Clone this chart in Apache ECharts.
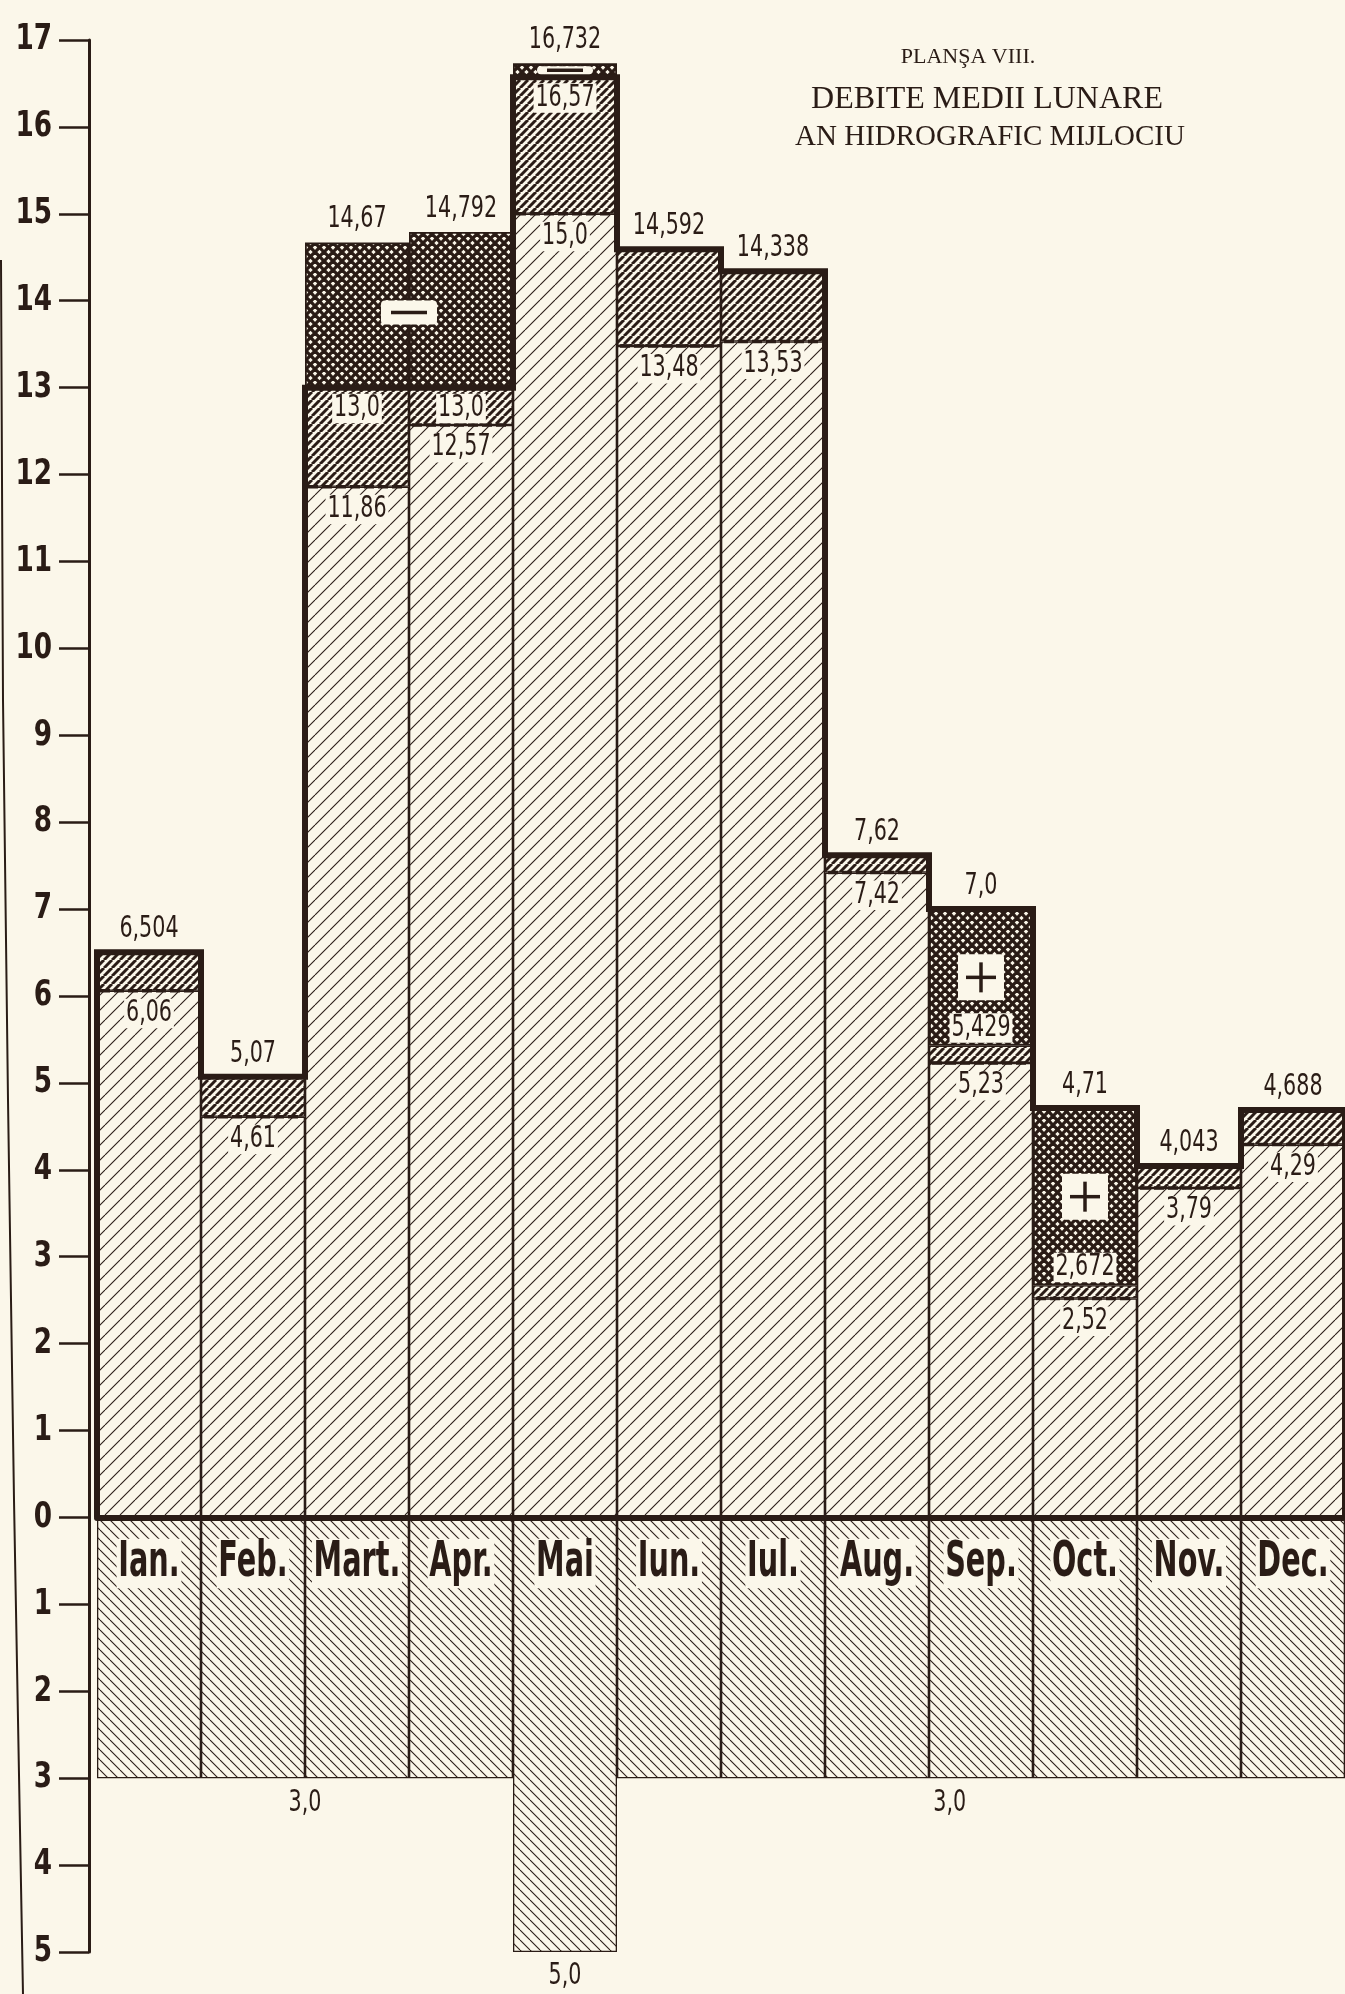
<!DOCTYPE html>
<html><head><meta charset="utf-8">
<script src="https://cdn.jsdelivr.net/npm/echarts@6/dist/echarts.min.js"></script>
<style>html,body{margin:0;padding:0;background:#fbf7ea;}#c{width:1345px;height:1994px;}</style>
</head><body><div id="c"></div>
<script>
// ---------- data ----------
const months = ['Ian.','Feb.','Mart.','Apr.','Mai','Iun.','Iul.','Aug.','Sep.','Oct.','Nov.','Dec.'];
const baseVals  = [6.06, 4.61, 11.86, 12.57, 15.0, 13.48, 13.53, 7.42, 5.23, 2.52, 3.79, 4.29];
const meanVals  = [6.504, 5.07, 13.0, 13.0, 16.57, 14.592, 14.338, 7.62, 5.429, 2.672, 4.043, 4.688];
const crossTops = [null, null, 14.67, 14.792, 16.732, null, null, null, 7.0, 4.71, null, null];
const crossSigns = ['', '', '−', '−', '−', '', '', '', '+', '+', '', ''];
const negVals   = [3.0, 3.0, 3.0, 3.0, 5.0, 3.0, 3.0, 3.0, 3.0, 3.0, 3.0, 3.0];
const yTicks = [-5, -4, -3, -2, -1, 0, 1, 2, 3, 4, 5, 6, 7, 8, 9, 10, 11, 12, 13, 14, 15, 16, 17];
const signGroups = [[2, 3], [4], [8], [9]];
const negNotes = [{at: 2.0, v: 3.0}, {at: 8.2, v: 3.0}, {at: 4.5, v: 5.0}];
const titleLines = ['PLANŞA VIII.', 'DEBITE MEDII LUNARE', 'AN HIDROGRAFIC MIJLOCIU'];

// ---------- style ----------
const INK = '#2a1c16', PAPER = '#fbf7ea';
const NUMFONT = "'DejaVu Sans Condensed','Liberation Sans Narrow','Roboto Condensed','DejaVu Sans',sans-serif";

function tile(step, lw, dirs) {
  const c = document.createElement('canvas'); c.width = step; c.height = step;
  const g = c.getContext('2d');
  g.fillStyle = PAPER; g.fillRect(0, 0, step, step);
  g.strokeStyle = INK; g.lineWidth = lw;
  for (const d of dirs) {
    for (let k = -1; k <= 1; k++) {
      g.beginPath();
      if (d === '/') { g.moveTo(k*step, step); g.lineTo(k*step + step, 0); }
      else { g.moveTo(k*step, 0); g.lineTo(k*step + step, step); }
      g.stroke();
    }
  }
  return {image: c, repeat: 'repeat'};
}
const patBase = tile(15, 1.1, ['/']);
const patDense = tile(8, 3.0, ['/']);
const patCross = tile(9, 3.3, ['/', '\\']);
const patNeg = tile(10, 1.1, ['\\']);

function fmt(v) { let s = String(v); if (s.indexOf('.') < 0) s += '.0'; return s.replace('.', ','); }
const r3 = x => Math.round(x * 1000) / 1000;

const denseDiff = meanVals.map((m, i) => r3(m - baseVals[i]));
const crossDiff = crossTops.map((t, i) => t == null ? '-' : r3(t - meanVals[i]));
const negData = negVals.map(v => -v);
const envelope = meanVals.map((m, i) => crossSigns[i] === '+' ? crossTops[i] : m);
const topVals = meanVals.map((m, i) => crossTops[i] != null ? Math.max(m, crossTops[i]) : m);
const envPts = [[0, 0]];
envelope.forEach((v, i) => { envPts.push([i, v]); envPts.push([i + 1, v]); });
envPts.push([12, 0]);

// text element with a stretch (the original lettering is narrow and tall)
function txt(s, x, y, va, bg, size, weight, sx, sy, align) {
  return {type: 'text', x: x, y: y, scaleX: sx || 0.92, scaleY: sy || 1.18,
    style: {text: s, x: 0, y: 0, align: align || 'center', verticalAlign: va,
    font: (weight || 'normal') + ' ' + (size || 25) + 'px ' + NUMFONT, fill: INK,
    backgroundColor: bg ? PAPER : 'transparent', padding: bg ? [0, 2] : 0}};
}

const chart = echarts.init(document.getElementById('c'), null, {renderer: 'canvas', width: 1345, height: 1994});
const barItem = (pat) => ({color: pat, borderColor: INK, borderWidth: 1.3});
const serif = "'Liberation Serif','DejaVu Serif',serif";

chart.setOption({
  backgroundColor: PAPER,
  animation: false,
  grid: {left: 97, right: 0, top: 40, bottom: 42, containLabel: false, outerBoundsMode: 'none'},
  xAxis: [
    {type: 'category', data: months, z: 20, boundaryGap: true,
     axisLine: {show: true, onZero: true, lineStyle: {color: INK, width: 6}},
     axisTick: {show: false}, axisLabel: {show: false}, splitLine: {show: false}},
    {type: 'value', min: 0, max: 12, show: false}
  ],
  yAxis: [{type: 'value', min: -5, max: 17, interval: 1, offset: 8,
    axisLine: {show: true, onZero: false, lineStyle: {color: INK, width: 3}},
    axisTick: {show: true, length: 30, lineStyle: {color: INK, width: 2.5}},
    axisLabel: {show: false},
    splitLine: {show: false}}],
  graphic: [
    {type: 'text', style: {text: titleLines[0], x: 968, y: 57, align: 'center', verticalAlign: 'middle',
      font: "22px " + serif, fill: INK}},
    {type: 'text', style: {text: titleLines[1], x: 987, y: 100, align: 'center', verticalAlign: 'middle',
      font: "32px " + serif, fill: INK}},
    {type: 'text', style: {text: titleLines[2], x: 990, y: 137, align: 'center', verticalAlign: 'middle',
      font: "29px " + serif, fill: INK}},
    {type: 'polyline', shape: {points: [[1, 260], [3, 700], [8, 1100], [14, 1500], [23, 1994]]},
     style: {stroke: INK, lineWidth: 2, fill: null}}
  ],
  series: [
    {type: 'bar', stack: 'p', data: baseVals, barCategoryGap: '0%', itemStyle: barItem(patBase), z: 2},
    {type: 'bar', stack: 'p', data: denseDiff, itemStyle: barItem(patDense), z: 2},
    {type: 'bar', stack: 'p', data: crossDiff, itemStyle: {color: patCross, borderColor: INK, borderWidth: 1.8}, z: 2},
    {type: 'bar', stack: 'p', data: negData, itemStyle: barItem(patNeg), z: 2},
    {type: 'line', xAxisIndex: 1, data: envPts, symbol: 'none', z: 6, clip: false,
     lineStyle: {color: INK, width: 6, join: 'miter'}},
    // dashed boundary at the top of each base layer
    {type: 'custom', xAxisIndex: 1, z: 5, data: baseVals.map((v, i) => [i, v]),
     renderItem: (params, api) => {
       const i = api.value(0), v = api.value(1);
       const p0 = api.coord([i, v]), p1 = api.coord([i + 1, v]);
       return {type: 'line', shape: {x1: p0[0] + 3, y1: p0[1], x2: p1[0] - 3, y2: p1[1]},
         style: {stroke: INK, lineWidth: 3.5, lineDash: [10, 4]}};
     }},
    // y tick labels (absolute values)
    {type: 'custom', xAxisIndex: 1, z: 8, clip: false, data: yTicks.map(v => [0, v]),
     renderItem: (params, api) => {
       const v = api.value(1);
       const p = api.coord([0, v]);
       return txt(String(Math.abs(v)), 52, p[1], 'middle', false, 34, 'bold', 0.86, 1.05, 'right');
     }},
    // + / − boxes
    {type: 'custom', xAxisIndex: 1, z: 7, data: signGroups.map(g => [g[0] + 0.5, meanVals[g[0]]]),
     renderItem: (params, api) => {
       const g = signGroups[params.dataIndex];
       let cx = 0, lo = 0, hi = 0;
       g.forEach(c => { cx += api.coord([c + 0.5, 0])[0]; lo += meanVals[c]; hi += crossTops[c]; });
       cx /= g.length; lo /= g.length; hi /= g.length;
       const yLo = api.coord([0, lo])[1], yHi = api.coord([0, hi])[1];
       const cy = (yLo + yHi) / 2, avail = Math.abs(yLo - yHi) - 6;
       const sign = crossSigns[g[0]];
       const ch = [];
       if (sign === '−') {
         const w = 56, h = Math.min(24, avail);
         ch.push({type: 'rect', shape: {x: cx - w/2, y: cy - h/2, width: w, height: h, r: 4}, style: {fill: PAPER}});
         ch.push({type: 'line', shape: {x1: cx - 18, y1: cy, x2: cx + 18, y2: cy}, style: {stroke: INK, lineWidth: 3.5}});
       } else {
         const w = 46, h = Math.min(46, avail);
         ch.push({type: 'rect', shape: {x: cx - w/2, y: cy - h/2, width: w, height: h, r: 3}, style: {fill: PAPER}});
         ch.push({type: 'line', shape: {x1: cx - 15, y1: cy, x2: cx + 15, y2: cy}, style: {stroke: INK, lineWidth: 3.5}});
         ch.push({type: 'line', shape: {x1: cx, y1: cy - 15, x2: cx, y2: cy + 15}, style: {stroke: INK, lineWidth: 3.5}});
       }
       return {type: 'group', children: ch};
     }},
    // value labels + month names
    {type: 'custom', xAxisIndex: 1, z: 8, data: topVals.map((v, i) => [i + 0.5, v]),
     renderItem: (params, api) => {
       const i = params.dataIndex;
       const cx = api.coord([i + 0.5, 0])[0];
       const ch = [];
       ch.push(txt(fmt(topVals[i]), cx, api.coord([0, topVals[i]])[1] - 8, 'bottom', false));
       if (crossSigns[i]) {
         const ym = api.coord([0, meanVals[i]])[1];
         if (crossSigns[i] === '−') ch.push(txt(fmt(meanVals[i]), cx, ym + 6, 'top', true));
         else ch.push(txt(fmt(meanVals[i]), cx, ym - 3, 'bottom', true));
       }
       ch.push(txt(fmt(baseVals[i]), cx, api.coord([0, baseVals[i]])[1] + 8, 'top', true));
       ch.push(txt(months[i], cx, api.coord([0, 0])[1] + 46, 'middle', true, 38, 'bold', 0.84, 1.3));
       return {type: 'group', children: ch};
     }},
    {type: 'custom', xAxisIndex: 1, z: 8, clip: false, data: negNotes.map(n => [n.at, -n.v]),
     renderItem: (params, api) => {
       const n = negNotes[params.dataIndex];
       const p = api.coord([n.at, -n.v]);
       return txt(fmt(n.v), p[0], p[1] + 10, 'top', false);
     }}
  ]
});
</script></body></html>
